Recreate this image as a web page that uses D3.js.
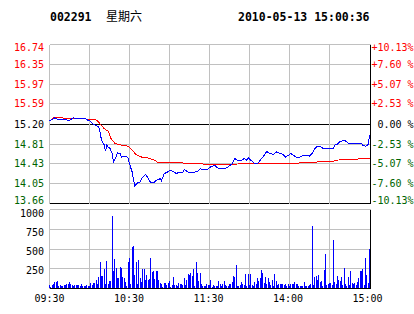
<!DOCTYPE html>
<html><head><meta charset="utf-8">
<script src="https://cdn.jsdelivr.net/npm/d3@7"></script>
<style>html,body{margin:0;padding:0;background:#fff;} svg{display:block;} text{white-space:pre;}</style>
</head><body>
<svg id="c" width="414" height="314"></svg>
<script>
const stockCode = "002291";
const weekday = "星期六";
const stamp = "2010-05-13 15:00:36";
const prevClose = 15.20;
const priceTicks = [16.74,16.35,15.97,15.59,15.20,14.81,14.43,14.05,13.66];
const pctTicks = ["+10.13%","+7.60 %","+5.07 %","+2.53 %"," 0.00 %","-2.53 %","-5.07 %","-7.60 %","-10.13%"];
const volTicks = [1000,750,500,250];
const timeLabels = ["09:30","10:30","11:30","14:00","15:00"];
const timeLabelMin = [0,60,120,180,240];
const gridMin = [30,60,90,120,150,180,210];

// price (minute index from 09:30, price)
const priceMin = [0,4,6,13,14,18,20,23,27,29,30,33,35,37,38,39,41,42,43,44,45,47,48,50,51,53,54,55,58,59,60,62,63,64,66,68,69,72,74,76,78,80,83,84,86,88,90,93,95,98,100,101,104,106,109,111,113,115,118,120,
121,124,126,129,133,135,137,139,141,144,146,148,149,151,154,156,159,161,163,165,168,170,173,175,177,179,181,183,185,188,190,193,195,197,199,201,203,205,208,210,213,214,216,218,221,223,224,226,229,231,234,235,237,239,240];
const priceVal = [15.26,15.32,15.29,15.28,15.26,15.32,15.30,15.30,15.30,15.27,15.27,15.19,15.17,15.14,15.04,14.88,14.80,14.68,14.79,14.75,14.75,14.63,14.46,14.56,14.64,14.63,14.56,14.58,14.57,14.53,14.43,14.27,14.11,14.00,14.06,14.08,14.14,14.22,14.15,14.06,14.06,14.11,14.14,14.10,14.24,14.26,14.30,14.28,14.24,14.27,14.27,14.32,14.27,14.26,14.27,14.28,14.33,14.32,14.31,14.35,
14.37,14.40,14.35,14.33,14.35,14.39,14.43,14.53,14.50,14.50,14.53,14.50,14.55,14.50,14.43,14.43,14.53,14.59,14.67,14.63,14.61,14.66,14.63,14.61,14.56,14.59,14.63,14.59,14.56,14.56,14.59,14.59,14.58,14.63,14.72,14.77,14.77,14.73,14.73,14.73,14.73,14.79,14.81,14.86,14.88,14.86,14.83,14.83,14.83,14.82,14.82,14.79,14.77,14.80,14.98];

// average price
const avgMin = [0,3,9,14,24,34,36,39,41,44,45,46,48,49,51,54,59,60,61,63,64,66,69,74,79,81,99,101,109,122,159,198,204,213,214,225,236,240];
const avgVal = [15.25,15.32,15.32,15.30,15.30,15.29,15.26,15.17,15.11,15.06,15.01,14.92,14.86,14.82,14.81,14.79,14.77,14.75,14.72,14.67,14.63,14.59,14.56,14.54,14.50,14.46,14.45,14.44,14.43,14.42,14.43,14.45,14.48,14.48,14.50,14.51,14.53,14.54];

// volume per minute, 09:30-11:30 (121 values) and 13:01-15:00 (120 values)
const volMorning = [42,20,42,54,84,84,92,33,42,33,
33,42,42,54,54,76,54,42,29,42,
42,42,42,29,54,33,33,33,42,33,
29,67,42,67,71,105,54,147,333,156,
156,244,54,346,63,92,92,915,223,371,
261,134,127,270,261,147,127,76,29,
337,387,63,527,539,168,337,63,358,
134,76,244,244,105,168,105,118,387,210,
219,118,219,219,105,71,54,20,71,71,
42,71,92,20,42,147,42,42,33,71,
54,54,42,134,42,105,181,168,198,156,
244,29,333,190,92,194,54,29,29,29,
54,42,42];
const volAfternoon = [105,20,42,29,29,29,92,63,29,54,
92,42,29,29,54,54,84,156,147,295,
29,29,42,76,54,42,181,29,181,42,
181,42,29,76,63,134,92,127,232,190,
71,147,63,134,76,42,105,29,181,92,
42,54,54,54,63,42,54,29,54,29,
63,54,54,76,63,54,29,29,29,29,
76,29,29,29,42,63,789,42,147,160,
105,168,84,92,29,232,443,42,54,71,
71,42,611,84,54,156,105,92,147,42,
261,54,29,147,42,219,71,54,71,42,
84,127,219,219,244,42,387,168,71,506];

const volume = volMorning.concat(volAfternoon);
const priceData = priceMin.map((m,i)=>({m, p: priceVal[i]}));
const avgData = avgMin.map((m,i)=>({m, p: avgVal[i]}));

const svg = d3.select("#c");
const x = d3.scaleLinear().domain([0,240]).range([49.5,369.5]);
const yP = d3.scaleLinear().domain([13.66,16.74]).range([203.5,44.5]);
const yV = d3.scaleLinear().domain([0,1000]).range([288.5,209.5]);
const pct = d3.scaleLinear().domain([0,8]).range([0,8]);
const snap = v => Math.floor(v) + 0.5;
const labelClamp = v => Math.max(47, Math.min(200, v));
const volLabelY = d3.scaleLinear().domain([1000,250]).range([213,270]);
const timeLabelX = d3.scaleLinear().domain([0,240]).range([49.5,367.5]);

const mono = "'DejaVu Sans Mono', monospace";
const GRID = "#c0c0c0";
const RED = "#ff0000", GREEN = "#006400";

// title
svg.append("text").attr("x",50).attr("y",21).attr("font-family",mono).attr("font-weight","bold").attr("font-size","11.5px").text(stockCode);
svg.append("text").attr("x",106).attr("y",21).attr("font-family","'Noto Sans CJK SC', sans-serif").attr("font-size","12px").text(weekday);
svg.append("text").attr("x",238).attr("y",21).attr("font-family",mono).attr("font-weight","bold").attr("font-size","11.5px").text(stamp);

const g = svg.append("g").attr("shape-rendering","crispEdges");

// price gridlines
priceTicks.forEach(v=>{
  const y = snap(yP(v));
  const black = (v === prevClose || v === 13.66);
  g.append("line").attr("x1",49.5).attr("x2",370.5).attr("y1",y).attr("y2",y)
    .attr("stroke", black ? "#000" : GRID);
});
// volume gridlines
volTicks.forEach(v=>{
  const y = snap(yV(v));
  g.append("line").attr("x1",49.5).attr("x2",370.5).attr("y1",y).attr("y2",y).attr("stroke",GRID);
});
// vertical gridlines
gridMin.forEach(m=>{
  const xx = snap(x(m));
  g.append("line").attr("x1",xx).attr("x2",xx).attr("y1",44.5).attr("y2",203.5).attr("stroke",GRID);
  g.append("line").attr("x1",xx).attr("x2",xx).attr("y1",209.5).attr("y2",288.5).attr("stroke",GRID);
});
// left borders
g.append("line").attr("x1",49.5).attr("x2",49.5).attr("y1",44.5).attr("y2",203.5).attr("stroke",GRID);
g.append("line").attr("x1",49.5).attr("x2",49.5).attr("y1",209.5).attr("y2",288.5).attr("stroke",GRID);

// volume bars
g.selectAll("rect.vol").data(volume).enter().append("rect")
  .attr("class","vol")
  .attr("x",(d,i)=>Math.floor(x(i)))
  .attr("width",1)
  .attr("y",d=>Math.round(yV(d)))
  .attr("height",d=>Math.max(0, 288 - Math.round(yV(d))))
  .attr("fill","#0000ff");

// volume bottom & right borders
g.append("line").attr("x1",49.5).attr("x2",370.5).attr("y1",288.5).attr("y2",288.5).attr("stroke","#000");
g.append("line").attr("x1",370.5).attr("x2",370.5).attr("y1",209.5).attr("y2",288.5).attr("stroke","#000");
g.append("line").attr("x1",370.5).attr("x2",370.5).attr("y1",44.5).attr("y2",203.5).attr("stroke","#000");

// lines
const line = d3.line().x(d=>x(d.m)).y(d=>yP(d.p));
g.append("path").datum(avgData).attr("d",line).attr("fill","none").attr("stroke",RED).attr("stroke-width",1);
g.append("path").datum(priceData).attr("d",line).attr("fill","none").attr("stroke","#0000ff").attr("stroke-width",1);

// left price labels
svg.selectAll("text.pl").data(priceTicks).enter().append("text")
  .attr("class","pl").attr("x",44).attr("y",d=>labelClamp(yP(d))).attr("dy","0.35em")
  .attr("text-anchor","end").attr("font-family",mono).attr("font-size","10px")
  .attr("fill",d=> d>prevClose ? RED : (d<prevClose ? GREEN : "#000"))
  .text(d=>d.toFixed(2));
// right pct labels
svg.selectAll("text.pr").data(pctTicks).enter().append("text")
  .attr("class","pr").attr("x",371.5).attr("y",(d,i)=>labelClamp(yP(priceTicks[i]))).attr("dy","0.35em")
  .attr("font-family",mono).attr("font-size","10px")
  .attr("fill",d=> d.trim()[0]==="+" ? RED : (d.trim()[0]==="-" ? GREEN : "#000"))
  .text(d=>d);
// volume labels
svg.selectAll("text.vl").data(volTicks).enter().append("text")
  .attr("class","vl").attr("x",44).attr("y",d=>volLabelY(d)).attr("dy","0.35em")
  .attr("text-anchor","end").attr("font-family",mono).attr("font-size","10px").attr("fill","#000")
  .text(d=>d);
// time labels
svg.selectAll("text.tl").data(timeLabels).enter().append("text")
  .attr("class","tl").attr("x",(d,i)=>timeLabelX(timeLabelMin[i])).attr("y",298).attr("dy","0.35em")
  .attr("text-anchor","middle").attr("font-family",mono).attr("font-size","10px").attr("fill","#000")
  .text(d=>d);
</script>
</body></html>
